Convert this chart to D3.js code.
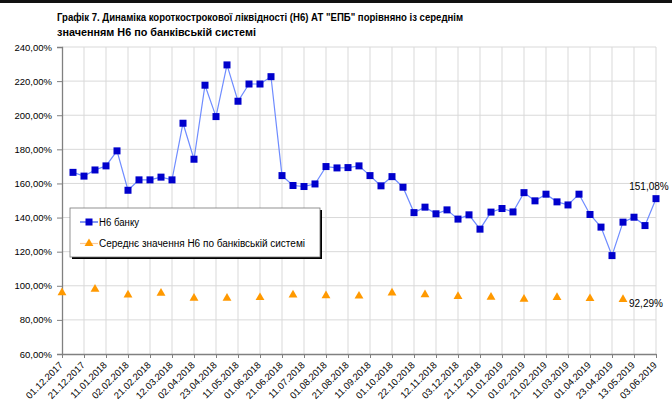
<!DOCTYPE html>
<html>
<head>
<meta charset="utf-8">
<script src="https://cdn.jsdelivr.net/npm/d3@7"></script>
<style>
  body { margin: 0; background: #fff; }
  svg { display: block; font-family: 'Liberation Sans', Arial, sans-serif; }
</style>
</head>
<body>
<svg id="drawing_region"></svg>
<script>
// dekad dates (every other one is labelled on the axis)
const categories = [
    '01.12.2017','11.12.2017','21.12.2017','02.01.2018','11.01.2018','22.01.2018','02.02.2018','12.02.2018',
    '21.02.2018','01.03.2018','12.03.2018','21.03.2018','02.04.2018','11.04.2018','23.04.2018','02.05.2018',
    '11.05.2018','21.05.2018','01.06.2018','11.06.2018','21.06.2018','02.07.2018','11.07.2018','23.07.2018',
    '01.08.2018','10.08.2018','21.08.2018','03.09.2018','11.09.2018','21.09.2018','01.10.2018','11.10.2018',
    '22.10.2018','01.11.2018','12.11.2018','21.11.2018','03.12.2018','11.12.2018','21.12.2018','02.01.2019',
    '11.01.2019','21.01.2019','01.02.2019','11.02.2019','21.02.2019','01.03.2019','11.03.2019','21.03.2019',
    '01.04.2019','11.04.2019','23.04.2019','02.05.2019','13.05.2019','21.05.2019','03.06.2019'
];

// Н6 банку (no value on the first date)
const bankValues = [
    null, 166.5, 164.3, 167.9, 170.3, 179.1, 156.0, 162.1, 162.1, 163.7, 162.1,
    195.3, 174.2, 217.6, 199.2, 229.5, 208.2, 218.3, 218.3, 222.6, 164.6,
    158.8, 158.2, 159.7, 169.9, 169.1, 169.3, 170.3, 164.6, 158.6, 164.0,
    157.8, 142.9, 146.1, 142.2, 144.5, 139.1, 141.6, 133.2, 143.2, 145.3,
    143.3, 154.6, 149.8, 153.7, 149.2, 147.4, 153.7, 141.8, 134.4, 117.7,
    137.3, 140.2, 135.3, 151.08
];

// середнє значення по системі, monthly
const systemDates = [
    '01.12.2017','02.01.2018','02.02.2018','01.03.2018','02.04.2018','02.05.2018','01.06.2018','02.07.2018','01.08.2018',
    '03.09.2018','01.10.2018','01.11.2018','03.12.2018','02.01.2019','01.02.2019','01.03.2019','01.04.2019','02.05.2019'
];
const systemValues = [
    96.3, 98.3, 94.9, 96.0, 93.0, 93.0, 93.4, 94.9, 94.5,
    94.3, 96.1, 95.1, 94.1, 93.6, 92.5, 93.5, 92.8, 92.29
];

const yTicks = [60, 80, 100, 120, 140, 160, 180, 200, 220, 240];

const titleLines = [
    'Графік 7. Динаміка короткострокової ліквідності (Н6) АТ "ЕПБ" порівняно із середнім',
    'значенням Н6 по банківській системі'
];
const seriesNames = [ 'Н6 банку', 'Середнє значення Н6 по банківській системі' ];

const fmt = v => d3.format( '.2f' )( v ).replace( '.', ',' ) + '%';

class LineChart {

    constructor( config ) {
        this.config = config;
        this.init();
    }

    init() {
        let self = this;

        self.svg = d3.select( self.config.parent )
            .attr( 'width', self.config.width )
            .attr( 'height', self.config.height );

        self.xscale = d3.scalePoint()
            .domain( categories )
            .range( [ 62, 656 ] );

        self.yscale = d3.scaleLinear()
            .domain( [ 60, 240 ] )
            .range( [ 354, 47 ] );
    }

    render() {
        let self = this;
        const x = self.xscale, y = self.yscale;
        const labelled = categories.filter( ( d, i ) => i % 2 == 0 );

        // top frame line
        self.svg.append( 'rect' )
            .attr( 'x', 0 ).attr( 'y', 0 )
            .attr( 'width', self.config.width ).attr( 'height', 3 )
            .attr( 'fill', '#111' );

        // title
        self.svg.selectAll( '.title' )
            .data( titleLines )
            .enter()
            .append( 'text' )
            .attr( 'x', 57 )
            .attr( 'y', ( d, i ) => 21 + i * 15 )
            .attr( 'textLength', ( d, i ) => i == 0 ? 406 : 199 )
            .attr( 'lengthAdjust', 'spacingAndGlyphs' )
            .style( 'font-size', '11px' )
            .style( 'font-weight', 'bold' )
            .text( d => d );

        // grid
        self.svg.append( 'g' )
            .selectAll( 'line' )
            .data( yTicks.slice( 1 ) )
            .enter()
            .append( 'line' )
            .attr( 'x1', 62 ).attr( 'x2', 656 )
            .attr( 'y1', d => y( d ) ).attr( 'y2', d => y( d ) )
            .attr( 'stroke', '#d9d9d9' );

        self.svg.append( 'g' )
            .selectAll( 'line' )
            .data( labelled.slice( 1 ) )
            .enter()
            .append( 'line' )
            .attr( 'x1', d => x( d ) ).attr( 'x2', d => x( d ) )
            .attr( 'y1', y( 240 ) ).attr( 'y2', y( 60 ) )
            .attr( 'stroke', '#d9d9d9' );

        // axes
        const yaxis = d3.axisLeft( y )
            .tickValues( yTicks )
            .tickSize( 5 )
            .tickPadding( 5 )
            .tickFormat( fmt );

        const ya = self.svg.append( 'g' )
            .attr( 'transform', 'translate(62,0)' )
            .call( yaxis );
        ya.selectAll( 'text' )
            .style( 'font-size', '9.5px' )
            .attr( 'fill', '#000' );

        const xaxis = d3.axisBottom( x )
            .tickValues( labelled )
            .tickSize( 4 )
            .tickSizeOuter( 0 );

        const xa = self.svg.append( 'g' )
            .attr( 'transform', 'translate(0,354)' )
            .call( xaxis );
        xa.selectAll( 'text' )
            .style( 'font-size', '9.5px' )
            .attr( 'fill', '#000' )
            .attr( 'text-anchor', 'end' )
            .attr( 'dy', '0.35em' )
            .attr( 'transform', 'translate(0,8) rotate(-45)' )
            .attr( 'y', 0 ).attr( 'x', -2 );

        self.svg.selectAll( '.domain' ).attr( 'stroke', '#808080' ).attr( 'stroke-width', 1.3 );
        self.svg.selectAll( '.tick line' ).attr( 'stroke', '#808080' );

        // bank series
        const line = d3.line()
            .defined( d => d != null )
            .x( ( d, i ) => x( categories[i] ) )
            .y( d => y( d ) );

        self.svg.append( 'path' )
            .datum( bankValues )
            .attr( 'd', line )
            .attr( 'fill', 'none' )
            .attr( 'stroke', '#6f8cff' )
            .attr( 'stroke-width', 1.2 );

        const bankPts = bankValues
            .map( ( v, i ) => ( { cat: categories[i], v: v } ) )
            .filter( d => d.v != null );

        self.svg.selectAll( '.bank' )
            .data( bankPts )
            .enter()
            .append( 'rect' )
            .attr( 'x', d => x( d.cat ) - 3.5 )
            .attr( 'y', d => y( d.v ) - 3.5 )
            .attr( 'width', 7 ).attr( 'height', 7 )
            .attr( 'fill', '#0000cc' );

        // system averages
        const tri = d3.symbol().type( d3.symbolTriangle ).size( 34 );

        self.svg.selectAll( '.sys' )
            .data( systemValues )
            .enter()
            .append( 'path' )
            .attr( 'd', tri )
            .attr( 'transform', ( d, i ) => `translate(${x( systemDates[i] )},${y( d ) + 0.5})` )
            .attr( 'fill', '#ff9900' );

        // data labels
        const lastBank = bankPts[ bankPts.length - 1 ];
        self.svg.append( 'text' )
            .attr( 'x', x( lastBank.cat ) - 7 )
            .attr( 'y', y( lastBank.v ) - 9 )
            .attr( 'text-anchor', 'middle' )
            .style( 'font-size', '10px' )
            .text( fmt( lastBank.v ) );

        const lastSys = systemValues.length - 1;
        self.svg.append( 'text' )
            .attr( 'x', x( systemDates[lastSys] ) + 6 )
            .attr( 'y', y( systemValues[lastSys] ) + 8 )
            .style( 'font-size', '10px' )
            .text( fmt( systemValues[lastSys] ) );

        // legend
        const lg = self.svg.append( 'g' ).attr( 'transform', 'translate(70,208)' );
        lg.append( 'rect' )
            .attr( 'x', 2 ).attr( 'y', 2 )
            .attr( 'width', 250 ).attr( 'height', 49 )
            .attr( 'fill', '#000' );
        lg.append( 'rect' )
            .attr( 'x', 0 ).attr( 'y', 0 )
            .attr( 'width', 250 ).attr( 'height', 49 )
            .attr( 'fill', '#fff' )
            .attr( 'stroke', '#777' )
            .attr( 'stroke-width', 0.8 );

        const items = lg.selectAll( '.item' )
            .data( seriesNames )
            .enter()
            .append( 'g' )
            .attr( 'transform', ( d, i ) => `translate(0,${14 + i * 21.5})` );

        items.append( 'line' )
            .attr( 'x1', 10 ).attr( 'x2', 28 )
            .attr( 'stroke', ( d, i ) => i == 0 ? '#3355ee' : '#fbc99a' )
            .attr( 'stroke-width', 1.2 );

        items.filter( ( d, i ) => i == 0 )
            .append( 'rect' )
            .attr( 'x', 15.5 ).attr( 'y', -3.5 )
            .attr( 'width', 7 ).attr( 'height', 7 )
            .attr( 'fill', '#0000cc' );

        items.filter( ( d, i ) => i == 1 )
            .append( 'path' )
            .attr( 'd', tri )
            .attr( 'transform', 'translate(19,0)' )
            .attr( 'fill', '#ff9900' );

        items.append( 'text' )
            .attr( 'x', 29 )
            .attr( 'y', 3.5 )
            .attr( 'textLength', ( d, i ) => i == 0 ? 40 : 206 )
            .attr( 'lengthAdjust', 'spacingAndGlyphs' )
            .style( 'font-size', '10px' )
            .text( d => d );
    }
}

const chart = new LineChart( { parent: '#drawing_region', width: 672, height: 404 } );
chart.render();
</script>
</body>
</html>
